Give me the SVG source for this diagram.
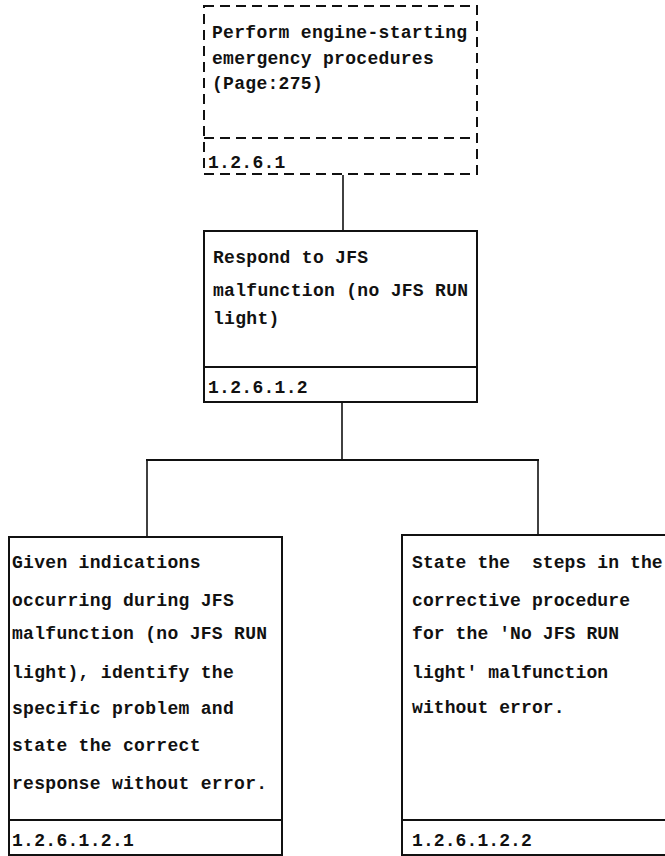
<svg xmlns="http://www.w3.org/2000/svg" width="665" height="856" viewBox="0 0 665 856">
<style>
.t{font-family:"Liberation Mono","DejaVu Sans Mono",monospace;font-size:18px;font-weight:bold;letter-spacing:0.3px;fill:#111;white-space:pre}
.r{letter-spacing:0.1px}
.b{fill:none;stroke:#111;stroke-width:2}
.d{fill:none;stroke:#111;stroke-width:2;stroke-dasharray:10 6}
.c{fill:none;stroke:#111;stroke-width:1.6}
.h{fill:none;stroke:#111;stroke-width:2.2}
</style>
<rect width="665" height="856" fill="#fff"/>
<g id="connectors">
<line class="c" x1="343" y1="175" x2="343" y2="231"/>
<line class="c" x1="342" y1="402" x2="342" y2="460"/>
<line class="h" x1="146" y1="460" x2="539" y2="460"/>
<line class="c" x1="147" y1="460" x2="147" y2="537"/>
<line class="c" x1="538" y1="460" x2="538" y2="535"/>
</g>
<g id="n1261">
<rect class="d" x="204" y="6" width="273" height="168"/>
<line class="d" x1="204" y1="138" x2="477" y2="138"/>
<text class="t" x="212" y="38">Perform engine-starting</text>
<text class="t" x="212" y="64">emergency procedures</text>
<text class="t" x="212" y="89">(Page:275)</text>
<text class="t" x="208" y="168">1.2.6.1</text>
</g>
<g id="n12612">
<rect class="b" x="204" y="231" width="273" height="171"/>
<line class="b" x1="204" y1="367" x2="477" y2="367"/>
<text class="t" x="213" y="263">Respond to JFS</text>
<text class="t" x="213" y="296">malfunction (no JFS RUN</text>
<text class="t" x="213" y="324">light)</text>
<text class="t" x="208" y="393">1.2.6.1.2</text>
</g>
<g id="n126121">
<rect class="b" x="9" y="537" width="273" height="318"/>
<line class="b" x1="9" y1="820" x2="282" y2="820"/>
<text class="t" x="12" y="568">Given indications</text>
<text class="t" x="12" y="606">occurring during JFS</text>
<text class="t" x="12" y="639">malfunction (no JFS RUN</text>
<text class="t" x="12" y="678">light), identify the</text>
<text class="t" x="12" y="714">specific problem and</text>
<text class="t" x="12" y="751">state the correct</text>
<text class="t" x="12" y="789">response without error.</text>
<text class="t" x="12" y="846">1.2.6.1.2.1</text>
</g>
<g id="n126122">
<rect class="b" x="402" y="535" width="270" height="320"/>
<line class="b" x1="402" y1="820" x2="672" y2="820"/>
<text class="t r" x="412" y="568">State the  steps in the</text>
<text class="t r" x="412" y="606">corrective procedure</text>
<text class="t r" x="412" y="639">for the 'No JFS RUN</text>
<text class="t r" x="412" y="678">light' malfunction</text>
<text class="t r" x="412" y="713">without error.</text>
<text class="t r" x="412" y="846">1.2.6.1.2.2</text>
</g>
</svg>
